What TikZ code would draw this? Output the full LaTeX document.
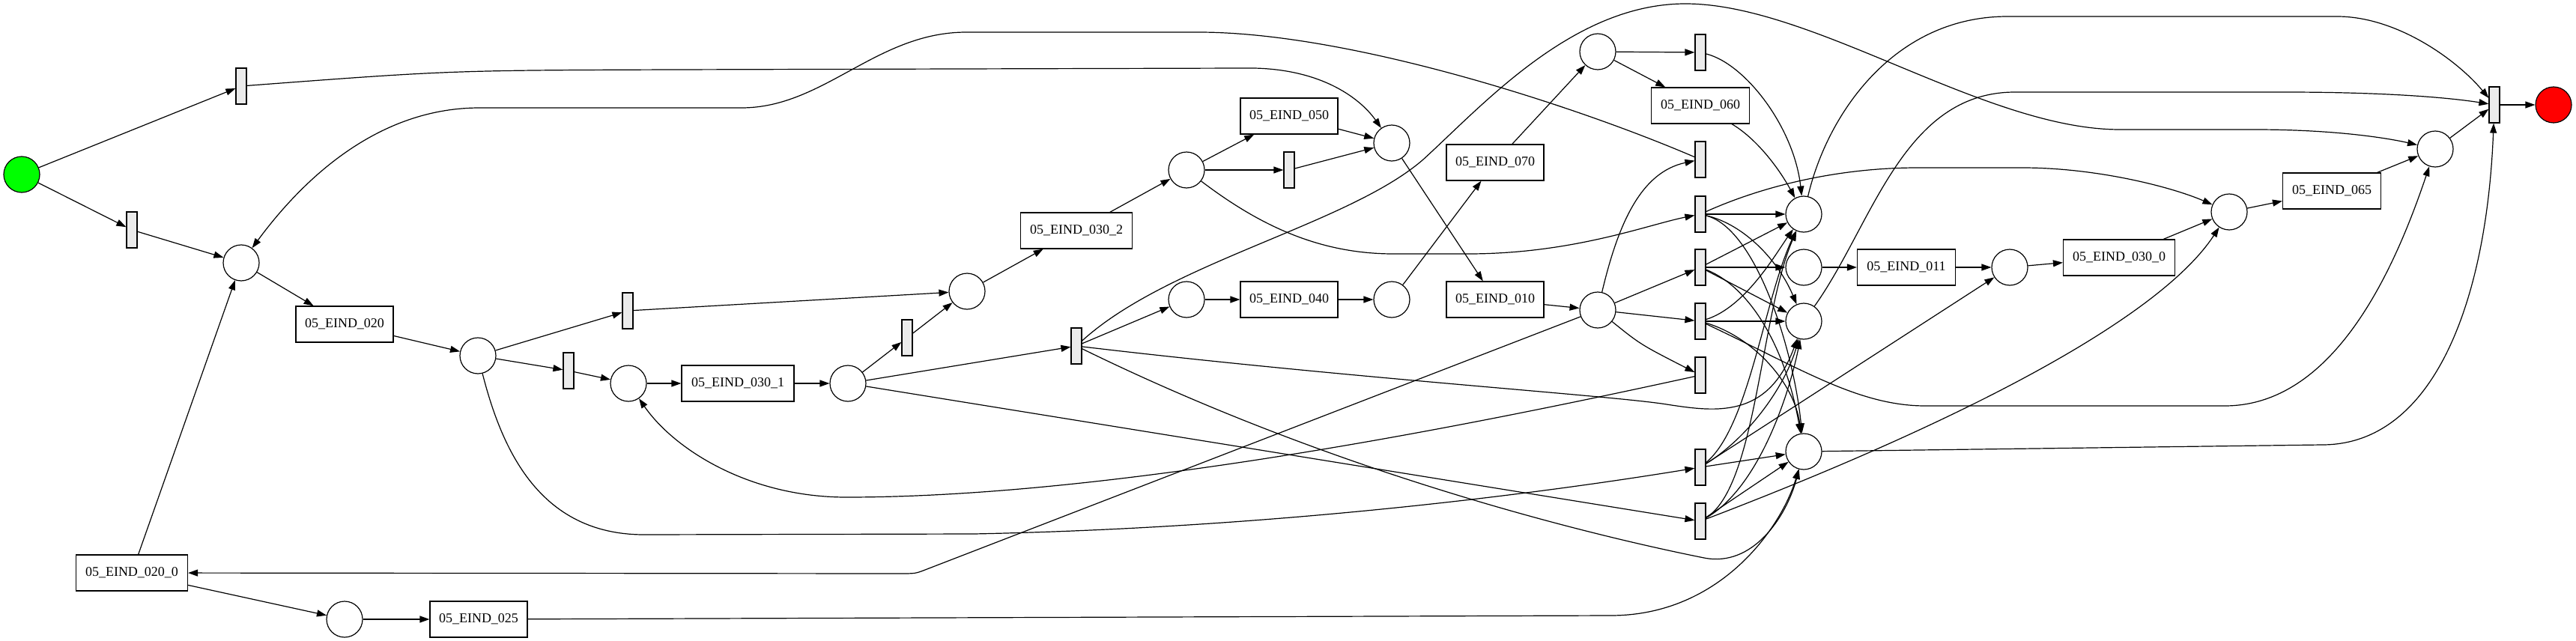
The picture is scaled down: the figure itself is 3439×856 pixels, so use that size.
\documentclass[tikz,border=0pt]{standalone}
\usepackage{fontspec}
\setmainfont{Liberation Serif}
\usetikzlibrary{arrows.meta}
\definecolor{srcgreen}{RGB}{0,255,0}
\definecolor{sinkred}{RGB}{255,0,0}
\definecolor{tgray}{RGB}{235,235,235}
\begin{document}
\begin{tikzpicture}[x=1pt,y=-1pt,
  every node/.style={font=\fontsize{18}{21}\selectfont},
  place/.style={circle,draw,line width=1.2pt,minimum size=48pt,inner sep=0pt},
  trans/.style={rectangle,draw,line width=1.2pt,fill=tgray,minimum width=14pt,minimum height=48pt,inner sep=0pt},
  task/.style={rectangle,draw,line width=1.2pt,minimum height=48pt,minimum width=#1,inner sep=0pt},
  task/.default=130pt,
  arr/.style={draw,line width=1.2pt,-{Triangle[length=13pt,width=9pt]}}
]
\useasboundingbox (0,0) rectangle (3439,856);
% places
\node[place,fill=srcgreen] (src) at (29,233) {};
\node[place] (pa) at (322,351) {};
\node[place] (pb) at (638,475) {};
\node[place] (pc) at (460,827) {};
\node[place] (pe) at (839,512) {};
\node[place] (pf) at (1132,512) {};
\node[place] (pd) at (1291,389) {};
\node[place] (ph) at (1584,227) {};
\node[place] (pg) at (1858,191) {};
\node[place] (pi) at (1584,400) {};
\node[place] (pj) at (1858,400) {};
\node[place] (pm) at (2133,69) {};
\node[place] (pl) at (2133,414) {};
\node[place] (pn) at (2408,286) {};
\node[place] (po) at (2408,357) {};
\node[place] (pq) at (2408,429) {};
\node[place] (pr) at (2408,603) {};
\node[place] (ps) at (2683,357) {};
\node[place] (pt) at (2976,283) {};
\node[place] (pk) at (3251,199) {};
\node[place,fill=sinkred] (sink) at (3409,140) {};
% silent transitions
\node[trans] (t1) at (322,115) {};
\node[trans] (t2) at (176,307) {};
\node[trans] (t3) at (838,415) {};
\node[trans] (t5) at (759,495) {};
\node[trans] (t4) at (1211,451) {};
\node[trans] (t6) at (1721,227) {};
\node[trans] (t7) at (1437,462) {};
\node[trans] (t9) at (2270,70) {};
\node[trans] (t8) at (2270,213) {};
\node[trans] (t10) at (2270,286) {};
\node[trans] (t11) at (2270,357) {};
\node[trans] (t12) at (2270,429) {};
\node[trans] (t13) at (2270,501) {};
\node[trans] (t14) at (2270,624) {};
\node[trans] (t15) at (2270,696) {};
\node[trans] (tf) at (3330,140) {};
% tasks
\node[task] (e020) at (460,433) {05\_EIND\_020};
\node[task=149pt] (e0200) at (176,765) {05\_EIND\_020\_0};
\node[task] (e025) at (639,827) {05\_EIND\_025};
\node[task=150pt] (e0301) at (985,512) {05\_EIND\_030\_1};
\node[task=149pt] (e0302) at (1437,308) {05\_EIND\_030\_2};
\node[task] (e050) at (1721,155) {05\_EIND\_050};
\node[task] (e040) at (1721,400) {05\_EIND\_040};
\node[task] (e070) at (1996,217) {05\_EIND\_070};
\node[task] (e010) at (1996,400) {05\_EIND\_010};
\node[task=131pt] (e060) at (2270,141) {05\_EIND\_060};
\node[task=131pt] (e011) at (2545,357) {05\_EIND\_011};
\node[task=149pt] (e0300) at (2829,344) {05\_EIND\_030\_0};
\node[task=131pt] (e065) at (3113,255) {05\_EIND\_065};
% straight arcs
\draw[arr] (src) -- (t1);
\draw[arr] (src) -- (t2);
\draw[arr] (t2) -- (pa);
\draw[arr] (pa) -- (e020);
\draw[arr] (e020) -- (pb);
\draw[arr] (pb) -- (t3);
\draw[arr] (pb) -- (t5);
\draw[arr] (t5) -- (pe);
\draw[arr] (pe) -- (e0301);
\draw[arr] (e0301) -- (pf);
\draw[arr] (pf) -- (t4);
\draw[arr] (t4) -- (pd);
\draw[arr] (t3) -- (pd);
\draw[arr] (pd) -- (e0302);
\draw[arr] (e0302) -- (ph);
\draw[arr] (ph) -- (e050);
\draw[arr] (ph) -- (t6);
\draw[arr] (e050) -- (pg);
\draw[arr] (t6) -- (pg);
\draw[arr] (pf) -- (t7);
\draw[arr] (t7) -- (pi);
\draw[arr] (pi) -- (e040);
\draw[arr] (e040) -- (pj);
\draw[arr] (pj) -- (e070);
\draw[arr] (e070) -- (pm);
\draw[arr] (pm) -- (t9);
\draw[arr] (pm) -- (e060);
\draw[arr] (pg) -- (e010);
\draw[arr] (e010) -- (pl);
\draw[arr] (pl) -- (t11);
\draw[arr] (pl) -- (t12);
\draw[arr] (pl) .. controls (2190,460) .. (t13);
\draw[arr] (e0200) -- (pa);
\draw[arr] (e0200) -- (pc);
\draw[arr] (pc) -- (e025);
\draw[arr] (po) -- (e011);
\draw[arr] (e011) -- (ps);
\draw[arr] (ps) -- (e0300);
\draw[arr] (e0300) -- (pt);
\draw[arr] (pt) -- (e065);
\draw[arr] (e065) -- (pk);
\draw[arr] (pk) -- (tf);
\draw[arr] (tf) -- (sink);
\draw[arr] (pf) -- (t15);
\draw[arr] (t14) -- (ps);
\draw[arr] (t14) -- (pr);
\draw[arr] (t15) -- (pr);
\draw[arr] (t10) -- (pn);
\draw[arr] (t11) -- (pn);
\draw[arr] (t11) -- (po);
\draw[arr] (t11) -- (pq);
\draw[arr] (t12) -- (pq);
% curved arcs
\draw[arr] (t1) .. controls (600,94) .. (900,93) -- (1660,91) .. controls (1760,89) and (1815,130) .. (pg);
\draw[arr] (t8) .. controls (2100,140) and (1800,43) .. (1600,43) -- (1290,43) .. controls (1170,43) and (1100,144) .. (990,144) -- (640,144) .. controls (515,144) and (415,225) .. (pa);
\draw[arr] (t7) .. controls (1560,350) and (1800,300) .. (1900,213) .. controls (1980,140) and (2100,5) .. (2250,5) .. controls (2420,5) and (2650,173) .. (2830,173) -- (3010,173) .. controls (3120,173) and (3190,185) .. (pk);
\draw[arr] (pb) .. controls (670,600) and (720,714) .. (860,714) -- (1300,713) .. controls (1700,705) and (2050,660) .. (t14);
\draw[arr] (t13) .. controls (2000,560) and (1500,664) .. (1130,664) .. controls (1000,664) and (900,600) .. (pe);
\draw[arr] (ph) .. controls (1680,300) and (1760,339) .. (1860,339) -- (1960,339) .. controls (2100,339) and (2200,300) .. (t10);
\draw[arr] (pl) .. controls (2160,300) and (2190,230) .. (t8);
\draw[arr] (pl) -- (1235,761) .. controls (1222,766) .. (1200,766) -- (e0200);
\draw[arr] (e025) -- (2150,822) .. controls (2300,822) and (2380,700) .. (pr);
\draw[arr] (t7) .. controls (1800,505) and (2150,528) .. (2225,540) .. controls (2290,550) and (2360,560) .. (pq);
\draw[arr] (t7) .. controls (1800,640) and (2150,720) .. (2275,745) .. controls (2340,758) and (2385,690) .. (pr);
\draw[arr] (t9) .. controls (2330,85) and (2395,170) .. (pn);
\draw[arr] (e060) .. controls (2345,185) and (2375,225) .. (pn);
\draw[arr] (pn) .. controls (2440,150) and (2530,22) .. (2680,22) -- (3120,22) .. controls (3200,22) and (3280,80) .. (tf);
\draw[arr] (pq) .. controls (2500,300) and (2540,123) .. (2690,123) -- (3050,123) .. controls (3200,123) and (3280,132) .. (tf);
\draw[arr] (pr) -- (3100,594) .. controls (3250,594) and (3320,400) .. (tf);
\draw[arr] (t10) .. controls (2350,250) and (2450,224) .. (2560,224) -- (2700,224) .. controls (2800,224) and (2900,250) .. (pt);
\draw[arr] (t12) .. controls (2400,490) and (2480,542) .. (2570,542) -- (2970,542) .. controls (3120,542) and (3200,350) .. (pk);
\draw[arr] (t15) .. controls (2600,570) and (2880,430) .. (pt);
% fan arcs
\draw[arr] (t10) .. controls (2330,300) and (2375,350) .. (pq);
\draw[arr] (t10) .. controls (2345,305) and (2395,470) .. (pr);
\draw[arr] (t11) .. controls (2340,385) and (2385,470) .. (pr);
\draw[arr] (t12) .. controls (2330,410) and (2370,340) .. (pn);
\draw[arr] (t12) .. controls (2340,450) and (2395,510) .. (pr);
\draw[arr] (t14) .. controls (2335,570) and (2355,400) .. (pn);
\draw[arr] (t14) .. controls (2340,580) and (2385,510) .. (pq);
\draw[arr] (t15) .. controls (2345,650) and (2350,420) .. (pn);
\draw[arr] (t15) .. controls (2350,650) and (2390,520) .. (pq);
\end{tikzpicture}
\end{document}
